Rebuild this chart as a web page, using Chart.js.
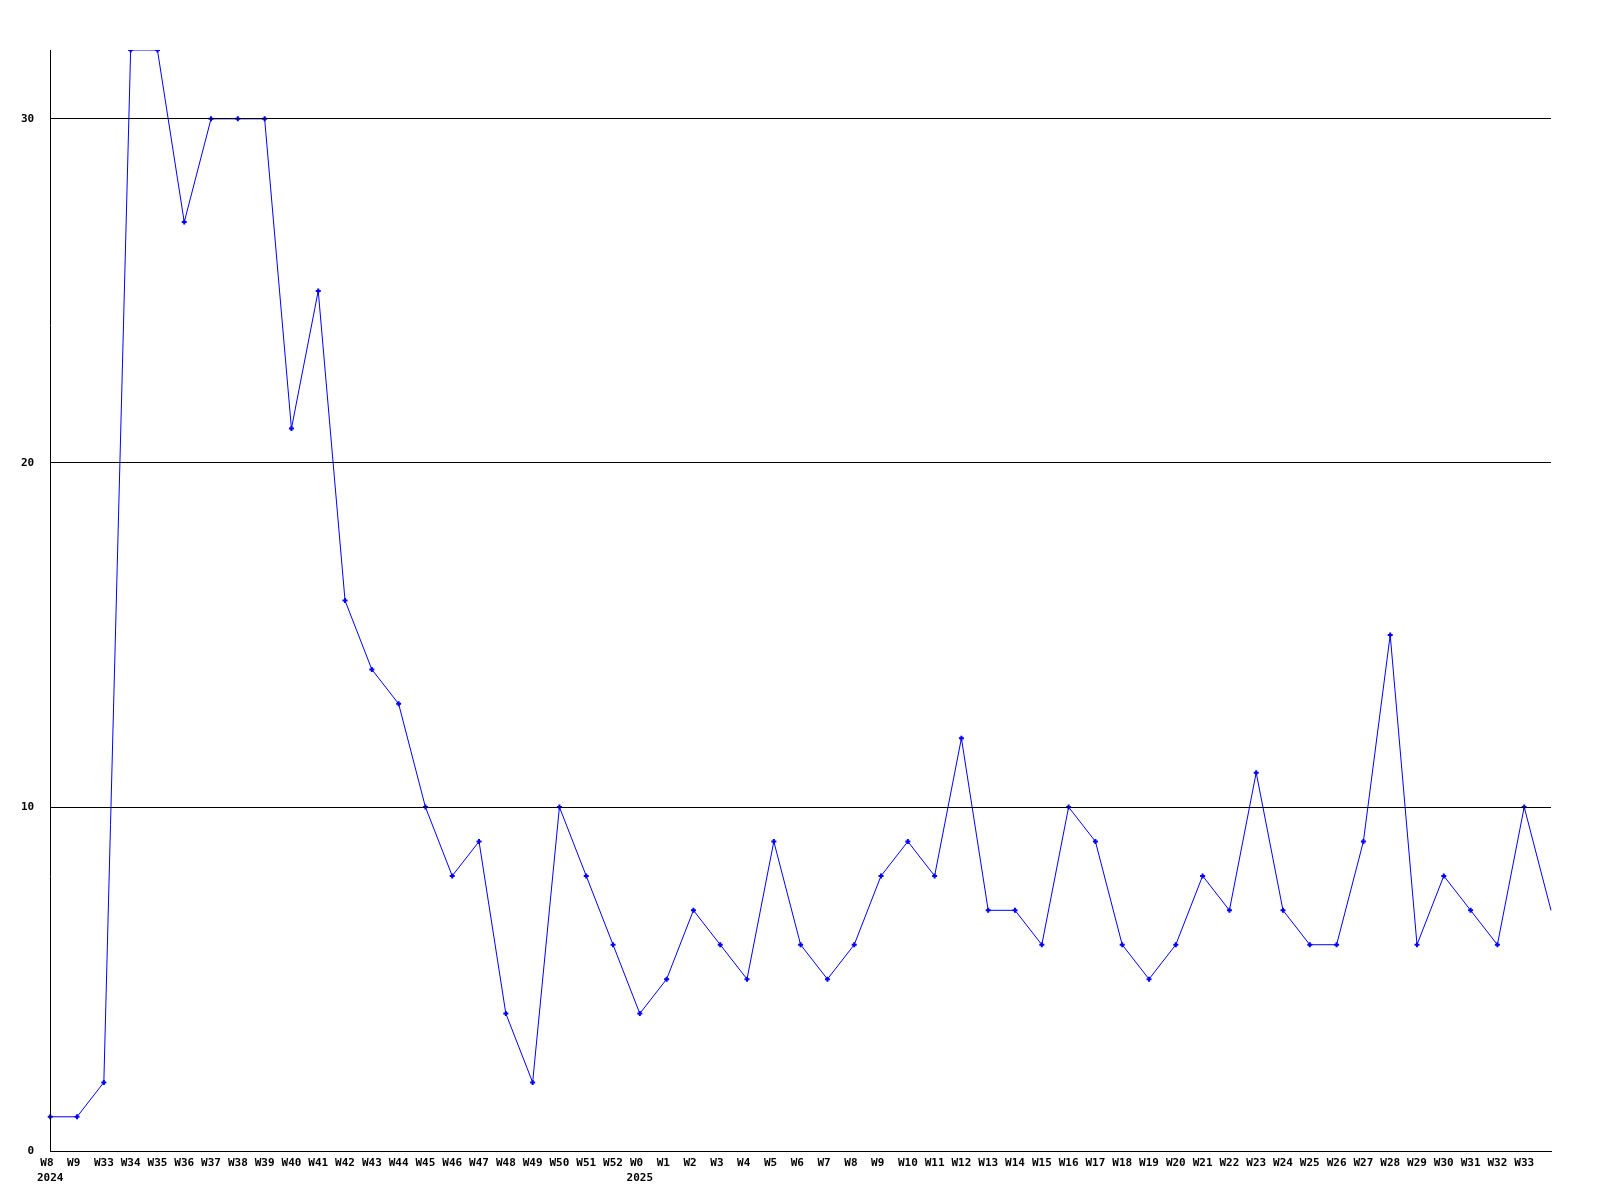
<!DOCTYPE html>
<html>
<head>
<meta charset="utf-8">
<script src="https://cdn.jsdelivr.net/npm/chart.js@4/dist/chart.umd.min.js"></script>
<style>
  html, body { margin: 0; padding: 0; background: #fff; }
  #wrap { width: 1600px; height: 1200px; }
</style>
</head>
<body>
<div id="wrap"><canvas id="chart" width="1600" height="1200"></canvas></div>
<script>
// week labels along the x axis (last point has no label)
const weeks = [
  "W8", "W9", "W33", "W34", "W35", "W36", "W37", "W38", "W39", "W40",
  "W41", "W42", "W43", "W44", "W45", "W46", "W47", "W48", "W49", "W50",
  "W51", "W52", "W0", "W1", "W2", "W3", "W4", "W5", "W6", "W7",
  "W8", "W9", "W10", "W11", "W12", "W13", "W14", "W15", "W16", "W17",
  "W18", "W19", "W20", "W21", "W22", "W23", "W24", "W25", "W26", "W27",
  "W28", "W29", "W30", "W31", "W32", "W33", ""
];
// year shown under the first week of each year
const yearIndex = [0, 22];
const yearNames = ["2024", "2025"];

const counts = [
  1, 1, 2, 32, 32, 27, 30, 30, 30, 21,
  25, 16, 14, 13, 10, 8, 9, 4, 2, 10,
  8, 6, 4, 5, 7, 6, 5, 9, 6, 5,
  6, 8, 9, 8, 12, 7, 7, 6, 10, 9,
  6, 5, 6, 8, 7, 11, 7, 6, 6, 9,
  15, 6, 8, 7, 6, 10, 7
];

const yTicks = [0, 10, 20, 30];

const labels = weeks.map((w, i) => {
  const txt = w.padEnd(3, " ");
  const y = yearIndex.indexOf(i);
  return y >= 0 ? [txt, yearNames[y]] : txt;
});

const tickFont = { family: "'DejaVu Sans Mono', monospace", size: 11, weight: "bold", lineHeight: 1.4 };

new Chart(document.getElementById("chart"), {
  type: "line",
  data: {
    labels: labels,
    datasets: [{
      data: counts,
      borderColor: "#0000ff",
      backgroundColor: "#0000ff",
      borderWidth: 1,
      tension: 0,
      fill: false,
      pointStyle: "cross",
      // no marker on the last (unlabelled) point
      pointRadius: (ctx) => ctx.dataIndex === counts.length - 1 ? 0 : 2.5,
      pointBorderWidth: 2,
      pointHoverRadius: 2.5
    }]
  },
  options: {
    responsive: false,
    animation: false,
    layout: { padding: { left: 5, right: 49, top: 50, bottom: 10 } },
    plugins: { legend: { display: false }, tooltip: { enabled: false } },
    scales: {
      x: {
        grid: { display: false, drawTicks: false },
        border: { display: true, color: "#000", width: 1 },
        ticks: {
          color: "#000", font: tickFont, autoSkip: false,
          maxRotation: 0, minRotation: 0, padding: 4
        }
      },
      y: {
        min: 0,
        max: 32,
        afterBuildTicks: (scale) => { scale.ticks = yTicks.map(v => ({ value: v })); },
        // gridlines sit on top of the line, as in the original
        grid: { color: "#000", lineWidth: 1, drawTicks: false, z: 1 },
        border: { display: true, color: "#000", width: 1, z: 2 },
        ticks: { color: "#000", font: tickFont, padding: 16 }
      }
    }
  }
});
</script>
</body>
</html>
